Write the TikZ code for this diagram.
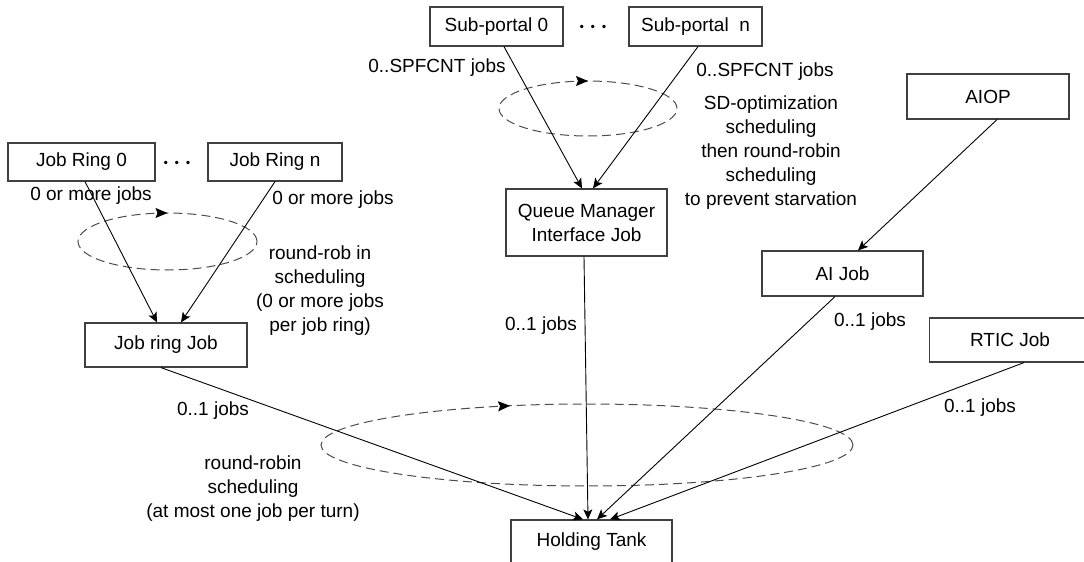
\documentclass[tikz,border=0pt]{standalone}
\usepackage{fontspec}
\setmainfont{Liberation Sans}
\usetikzlibrary{arrows.meta,decorations.markings}

\begin{document}
\begin{tikzpicture}[x=0.5pt,y=-0.5pt,
  font=\fontsize{9.5}{12}\selectfont,
  box/.style={draw=black!75, line width=0.6pt, align=center, inner sep=0pt},
  lbl/.style={align=center, inner sep=0pt},
  dots/.style={inner sep=0pt, font=\fontsize{10.5}{10.5}\selectfont\boldmath},
  feed/.style={-{Stealth[length=5pt,width=4.5pt,inset=1.2pt]}, line width=0.45pt},
  ring/.style={draw=black!70, dash pattern=on 4.5pt off 2.5pt, line width=0.5pt,
    decoration={markings, mark=at position #1 with {\arrowreversed{Stealth[length=6pt,width=5pt,inset=1pt,color=black]}}},
    postaction={decorate}},
  ]

\useasboundingbox (0,0) rectangle (1084,562);

% === Job rings ===
\node[box, minimum width=73.5pt, minimum height=19pt] (jr0) at (81.5,162) {Job Ring 0};
\node[box, minimum width=67pt, minimum height=19pt] (jrn) at (275,162) {Job Ring n};
\node[dots] (jrdots) at (177,163) {$\cdots$};
\node[box, minimum width=81pt, minimum height=22pt] (jrjob) at (166,345) {Job ring Job};

\node[lbl] (jr0lbl) at (91,196) {0 or more jobs};
\node[lbl] (jrnlbl) at (333,200) {0 or more jobs};
\node[lbl] (jrsched) at (320,291) {round-rob in\\scheduling\\(0 or more jobs\\per job ring)};

\draw[ring=0.25] (167.5,241.5) ellipse [x radius=44.75pt, y radius=14.25pt];
\draw[feed] ([xshift=1.75pt]jr0.south) -- ([xshift=-4.5pt]jrjob.north);
\draw[feed] (jrn.south) -- ([xshift=7.5pt]jrjob.north);

% === Sub-portals ===
\node[box, minimum width=66.5pt, minimum height=19.5pt] (sp0) at (496.5,26.5) {Sub-portal 0};
\node[box, minimum width=66.5pt, minimum height=19.5pt] (spn) at (695.5,26.5) {Sub-portal\ \ n};
\node[dots] (spdots) at (593,27) {$\cdots$};
\node[box, minimum width=80.5pt, minimum height=33.5pt] (qm) at (586.5,222.5) {Queue Manager\\Interface Job};

\node[lbl] (sp0lbl) at (437,68) {0..SPFCNT jobs};
\node[lbl] (spnlbl) at (765,72) {0..SPFCNT jobs};
\node[lbl] (spsched) at (771,153) {SD-optimization\\scheduling\\then round-robin\\scheduling\\to prevent starvation};

\draw[ring=0.25] (588,108.5) ellipse [x radius=44.5pt, y radius=13.75pt];
\draw[feed] ([xshift=3.75pt]sp0.south) -- ([xshift=-2.25pt]qm.north);
\draw[feed] ([xshift=1.25pt]spn.south) -- ([xshift=3.25pt]qm.north);

% === AIOP and RTIC ===
\node[box, minimum width=81pt, minimum height=22.5pt] (aiop) at (988,96.5) {AIOP};
\node[box, minimum width=80.5pt, minimum height=22.5pt] (aijob) at (842.5,273.5) {AI Job};
\node[box, minimum width=80.5pt, minimum height=22pt] (rtic) at (1010,340) {RTIC Job};
\draw[feed] ([xshift=4.5pt]aiop.south) -- ([xshift=7.75pt]aijob.north);

% === Holding tank ===
\node[box, minimum width=80.5pt, minimum height=22pt] (tank) at (591.5,542) {Holding Tank};

\node[lbl] (jrjoblbl) at (213,411) {0..1 jobs};
\node[lbl] (qmlbl) at (541,326) {0..1 jobs};
\node[lbl] (aijoblbl) at (870,322) {0..1 jobs};
\node[lbl] (rticlbl) at (980,408) {0..1 jobs};
\node[lbl] (tanksched) at (253,489) {round-robin\\scheduling\\(at most one job per turn)};

\draw[ring=0.32] (587,445) ellipse [x radius=133pt, y radius=20.5pt];
\draw[feed] ([xshift=-2.5pt]jrjob.south) -- ([xshift=-4.25pt]tank.north);
\draw[feed] ([xshift=-1.25pt]qm.south) -- ([xshift=-1.75pt]tank.north);
\draw[feed] ([xshift=-3.75pt]aijob.south) -- ([xshift=2.75pt]tank.north);
\draw[feed] ([xshift=7pt]rtic.south) -- ([xshift=9.25pt]tank.north);

\end{tikzpicture}
\end{document}
